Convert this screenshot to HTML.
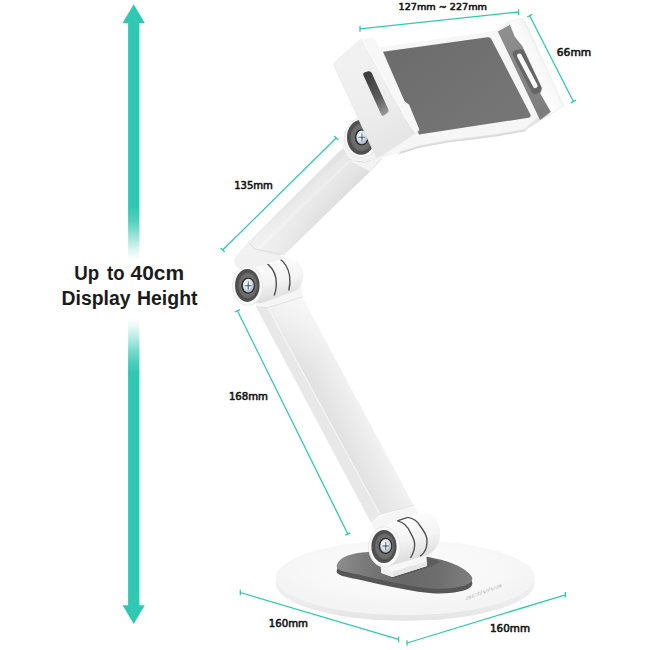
<!DOCTYPE html>
<html lang="en">
<head>
<meta charset="utf-8">
<title>Tablet Stand Dimensions</title>
<style>
html,body{margin:0;padding:0;background:#fff;}
body{width:650px;height:650px;overflow:hidden;}
svg{display:block;}
.big{font-family:"Liberation Sans",sans-serif;font-weight:700;font-size:20px;fill:#1b1b1b;}
.lbl{font-family:"DejaVu Sans","Liberation Sans",sans-serif;font-weight:400;font-size:9.9px;fill:#141414;stroke:#141414;stroke-width:0.55;stroke-linejoin:round;}
.dim{stroke:#30c8b2;stroke-width:1.3;fill:none;stroke-linecap:butt;}
</style>
</head>
<body>
<svg width="650" height="650" viewBox="0 0 650 650">
<defs>
  <linearGradient id="shaft" gradientUnits="userSpaceOnUse" x1="0" y1="0" x2="0" y2="650">
    <stop offset="0" stop-color="#30c8b2" stop-opacity="1"/>
    <stop offset="0.318" stop-color="#30c8b2" stop-opacity="1"/>
    <stop offset="0.342" stop-color="#30c8b2" stop-opacity="0.82"/>
    <stop offset="0.366" stop-color="#30c8b2" stop-opacity="0.45"/>
    <stop offset="0.385" stop-color="#30c8b2" stop-opacity="0.16"/>
    <stop offset="0.4" stop-color="#30c8b2" stop-opacity="0"/>
    <stop offset="0.489" stop-color="#30c8b2" stop-opacity="0"/>
    <stop offset="0.505" stop-color="#30c8b2" stop-opacity="0.14"/>
    <stop offset="0.52" stop-color="#30c8b2" stop-opacity="0.35"/>
    <stop offset="0.537" stop-color="#30c8b2" stop-opacity="0.62"/>
    <stop offset="0.556" stop-color="#30c8b2" stop-opacity="0.86"/>
    <stop offset="0.573" stop-color="#30c8b2" stop-opacity="1"/>
    <stop offset="1" stop-color="#30c8b2" stop-opacity="1"/>
  </linearGradient>
  <linearGradient id="padG" gradientUnits="userSpaceOnUse" x1="400" y1="40" x2="470" y2="135">
    <stop offset="0" stop-color="#6c6c6c"/>
    <stop offset="1" stop-color="#757575"/>
  </linearGradient>
  <radialGradient id="baseG" gradientUnits="userSpaceOnUse" cx="405" cy="570" r="135" gradientTransform="translate(0,404) scale(1,0.29)">
    <stop offset="0" stop-color="#fbfbfb"/>
    <stop offset="0.7" stop-color="#f8f8f8"/>
    <stop offset="1" stop-color="#f4f4f4"/>
  </radialGradient>
  <linearGradient id="bpadG" gradientUnits="userSpaceOnUse" x1="336" y1="565" x2="473" y2="580">
    <stop offset="0" stop-color="#8e8e8e"/>
    <stop offset="0.12" stop-color="#828282"/>
    <stop offset="0.3" stop-color="#727272"/>
    <stop offset="0.5" stop-color="#686868"/>
    <stop offset="0.75" stop-color="#6e6e6e"/>
    <stop offset="1" stop-color="#808080"/>
  </linearGradient>
  <linearGradient id="cylG3" gradientUnits="userSpaceOnUse" x1="405" y1="515" x2="415" y2="558">
    <stop offset="0" stop-color="#fdfdfd"/>
    <stop offset="0.55" stop-color="#f4f4f4"/>
    <stop offset="1" stop-color="#dedede"/>
  </linearGradient>
  <linearGradient id="ringG" x1="0" y1="0" x2="1" y2="1">
    <stop offset="0" stop-color="#686868"/>
    <stop offset="1" stop-color="#4c4c4c"/>
  </linearGradient>
  <radialGradient id="screwG" cx="0.4" cy="0.35" r="0.7">
    <stop offset="0" stop-color="#ffffff"/>
    <stop offset="0.6" stop-color="#d6dde4"/>
    <stop offset="1" stop-color="#9aa6b3"/>
  </radialGradient>
  <linearGradient id="arm2L" gradientUnits="userSpaceOnUse" x1="300" y1="420" x2="312" y2="414">
    <stop offset="0" stop-color="#eeeeee"/>
    <stop offset="0.5" stop-color="#e5e5e5"/>
    <stop offset="1" stop-color="#e8e8e8"/>
  </linearGradient>
  <linearGradient id="arm2F" gradientUnits="userSpaceOnUse" x1="322" y1="412" x2="357" y2="394">
    <stop offset="0" stop-color="#e0e0e0"/>
    <stop offset="0.45" stop-color="#e8e8e8"/>
    <stop offset="0.85" stop-color="#efefef"/>
    <stop offset="1" stop-color="#f3f3f3"/>
  </linearGradient>
  <linearGradient id="cylG2" gradientUnits="userSpaceOnUse" x1="272" y1="259" x2="280" y2="298">
    <stop offset="0" stop-color="#fdfdfd"/>
    <stop offset="0.55" stop-color="#f4f4f4"/>
    <stop offset="1" stop-color="#dedede"/>
  </linearGradient>
  <linearGradient id="arm1T" gradientUnits="userSpaceOnUse" x1="296" y1="197" x2="303" y2="204.5">
    <stop offset="0" stop-color="#e3e3e3"/>
    <stop offset="0.3" stop-color="#e7e7e7"/>
    <stop offset="1" stop-color="#ebebeb"/>
  </linearGradient>
  <linearGradient id="arm1F" gradientUnits="userSpaceOnUse" x1="303" y1="206" x2="319" y2="222.5">
    <stop offset="0" stop-color="#eeeeee"/>
    <stop offset="0.1" stop-color="#e7e7e7"/>
    <stop offset="0.6" stop-color="#e3e3e3"/>
    <stop offset="0.9" stop-color="#dedede"/>
    <stop offset="1" stop-color="#d8d8d8"/>
  </linearGradient>
  <linearGradient id="plateG" gradientUnits="userSpaceOnUse" x1="455" y1="120" x2="459" y2="142">
    <stop offset="0" stop-color="#fafafa"/>
    <stop offset="0.5" stop-color="#f2f2f2"/>
    <stop offset="1" stop-color="#dddddd"/>
  </linearGradient>
  <linearGradient id="rcG" gradientUnits="userSpaceOnUse" x1="505" y1="25" x2="545" y2="118">
    <stop offset="0" stop-color="#8f8f8f"/>
    <stop offset="1" stop-color="#7c7c7c"/>
  </linearGradient>
  <linearGradient id="rcTop" gradientUnits="userSpaceOnUse" x1="530" y1="66" x2="546" y2="58">
    <stop offset="0" stop-color="#fdfdfd"/>
    <stop offset="0.7" stop-color="#f6f6f6"/>
    <stop offset="1" stop-color="#e4e4e4"/>
  </linearGradient>
  <linearGradient id="lcSide" gradientUnits="userSpaceOnUse" x1="350" y1="60" x2="395" y2="140">
    <stop offset="0" stop-color="#f1f1f1"/>
    <stop offset="0.6" stop-color="#ededed"/>
    <stop offset="1" stop-color="#e6e6e6"/>
  </linearGradient>
  <linearGradient id="lslotG" gradientUnits="userSpaceOnUse" x1="366" y1="74" x2="386" y2="114">
    <stop offset="0" stop-color="#3d3d3d"/>
    <stop offset="0.6" stop-color="#5a5a5a"/>
    <stop offset="1" stop-color="#9a9a9a"/>
  </linearGradient>
  <radialGradient id="dishG" cx="0.5" cy="0.5" r="0.6">
    <stop offset="0" stop-color="#7c7c7c"/>
    <stop offset="0.7" stop-color="#6c6c6c"/>
    <stop offset="1" stop-color="#585858"/>
  </radialGradient>
  <linearGradient id="rimG" gradientUnits="userSpaceOnUse" x1="0" y1="583" x2="0" y2="621">
    <stop offset="0" stop-color="#f0f0f0"/>
    <stop offset="0.6" stop-color="#ebebeb"/>
    <stop offset="1" stop-color="#e4e4e4"/>
  </linearGradient>
  <linearGradient id="arm1Len" gradientUnits="userSpaceOnUse" x1="350" y1="170" x2="265" y2="255">
    <stop offset="0" stop-color="#ffffff" stop-opacity="0"/>
    <stop offset="0.5" stop-color="#ffffff" stop-opacity="0.08"/>
    <stop offset="1" stop-color="#ffffff" stop-opacity="0.38"/>
  </linearGradient>
  <linearGradient id="arm2Len" gradientUnits="userSpaceOnUse" x1="285" y1="302" x2="318" y2="364">
    <stop offset="0" stop-color="#ffffff" stop-opacity="0.55"/>
    <stop offset="1" stop-color="#ffffff" stop-opacity="0"/>
  </linearGradient>
</defs>
<rect width="650" height="650" fill="#ffffff"/>

<!-- ============ BIG HEIGHT ARROW ============ -->
<g id="height-arrow">
  <rect x="128.1" y="22" width="11.3" height="584" fill="url(#shaft)"/>
  <polygon points="133.7,4.2 144.8,22.9 122.6,22.9" fill="#30c8b2"/>
  <polygon points="133.7,624 144.8,605.3 122.6,605.3" fill="#30c8b2"/>
</g>
<text class="big" y="280"><tspan x="74.3" textLength="25" lengthAdjust="spacingAndGlyphs">Up</tspan> <tspan x="107" textLength="17.5" lengthAdjust="spacingAndGlyphs">to</tspan> <tspan x="130.6" textLength="53.5" lengthAdjust="spacingAndGlyphs">40cm</tspan></text>
<text class="big" y="305.4"><tspan x="61.6" textLength="69" lengthAdjust="spacingAndGlyphs">Display</tspan> <tspan x="137" textLength="60.5" lengthAdjust="spacingAndGlyphs">Height</tspan></text>

<!-- ============ BASE ============ -->
<g id="base">
  <ellipse cx="405.2" cy="583.2" rx="129.4" ry="37.6" fill="url(#rimG)"/>
  <ellipse cx="405.2" cy="577.6" rx="129.4" ry="37.4" fill="url(#baseG)"/>
  <!-- brand mark on base -->
  <text transform="translate(465,600.6) rotate(-20.5) skewX(-30)" font-family="'Liberation Sans',sans-serif" font-size="5.6" font-weight="400" fill="#c4c4c4" textLength="39" lengthAdjust="spacingAndGlyphs">activiva</text>
  <!-- dark rubber pad -->
  <path id="bpad" d="M336.6,566.6 C337,559.6 346,554 362,552.4 L372,551.8 L427,557 C446,559.5 466,567 472,577 C473.5,581 470,585 458,587 C452,588.5 442,589 432,588.5 L418,587 C400,584 380,580 362,575.5 C350,572.5 337,571.4 336.6,566.6 Z" fill="#565656" transform="translate(0,4.8)"/>
  <path d="M336.6,566.6 C337,559.6 346,554 362,552.4 L372,551.8 L427,557 C446,559.5 466,567 472,577 C473.5,581 470,585 458,587 C452,588.5 442,589 432,588.5 L418,587 C400,584 380,580 362,575.5 C350,572.5 337,571.4 336.6,566.6 Z" fill="url(#bpadG)"/>
</g>
<!-- ============ LOWER ARM ============ -->
<g id="arm2">
  <polygon points="256.2,307 267.7,307.7 379.7,514 370,521" fill="url(#arm2L)"/>
  <polygon points="267.7,307.7 302.3,297 413.3,504.6 379.7,514" fill="url(#arm2F)"/>
  <polygon points="267.7,307.7 302.3,297 413.3,504.6 379.7,514" fill="url(#arm2Len)"/>
  <path d="M267.7,307.7 L379.7,514" stroke="#f5f5f5" stroke-width="1.2" fill="none"/>
</g>
<!-- ============ BASE JOINT ============ -->
<g id="joint3">
  <!-- shadow under mount block -->
  <path d="M380,570 L393,578.5 L430,567 L440,562 L426,556 Z" fill="#3f3f3f" opacity="0.35"/>
  <!-- mount block -->
  <path d="M380.6,563 L426.3,552 L427,566 L392.4,577 L381.3,572.9 Z" fill="#f6f6f6"/>
  <path d="M392.4,577 L427,566 L427,561.5 L392.4,571.6 Z" fill="#e6e6e6"/>
  <path d="M380.8,567.5 L392.4,571.6 L392.4,577 L381.3,572.9 Z" fill="#efefef"/>
  <!-- knuckle from arm -->
  <path d="M369.5,520.5 L413.3,504.6 L419,515 L400,530 L376,534 Z" fill="#f5f5f5"/>
  <path d="M370.3,521.6 L379.8,514.4 L413.4,505.2" fill="none" stroke="#dcdcdc" stroke-width="0.9"/>
  <!-- cylinder body -->
  <path d="M384,527 C388,524 392,521.5 396.5,520.2 C404,517.5 410,515.5 416,514 C419,513 422,512.6 424.2,512.6 C431,513 435.5,517 436.7,520.2 C439,524.5 440.4,528.5 440.2,532.7 C440.2,537.5 439.2,541.5 437.4,545.2 C435.4,549.5 431.5,553 427,554.9 C420,557.5 410,559.5 400,563 L384,567.5 Z" fill="url(#cylG3)"/>
  <path d="M397.2,520.9 L407.8,517.4 M397.2,520.9 C403,522 408,527 410.4,532.7 C413.5,538 415,541 414.6,545.2 C414.4,550 413,554 410.4,557.8" fill="none" stroke="#505050" stroke-width="1.4"/>
  <path d="M407.8,517.4 C414,518.5 418,522 420,525.8 C424,531 426.6,535 427,539.6 C427.2,545 426.4,549 424.2,552 C423,554 421.6,555.3 420,556.2" fill="none" stroke="#505050" stroke-width="1.4"/>
  <!-- front face -->
  <ellipse cx="384.3" cy="546.9" rx="15.7" ry="20.1" fill="#f9f9f9" stroke="#e3e3e3" stroke-width="0.8"/>
  <ellipse cx="384.0" cy="546.5" rx="12.6" ry="16.6" fill="#4f4f4f"/>
  <ellipse cx="384.6" cy="546.5" rx="9.7" ry="13.0" fill="url(#dishG)"/>
  <ellipse cx="385.5" cy="545.9" rx="6.9" ry="8.2" fill="#2d2d2d"/>
  <ellipse cx="385.7" cy="545.9" rx="5.5" ry="6.8" fill="url(#screwG)"/>
  <path d="M385.7,542.3 V549.5 M382.7,545.9 H388.7" stroke="#7088a0" stroke-width="1.3" fill="none" stroke-linecap="round"/>
  <circle cx="385.7" cy="545.9" r="1" fill="#4a5d70"/>
</g>
<!-- ============ MIDDLE JOINT ============ -->
<g id="joint2">
  <!-- knuckle to lower arm -->
  <path d="M258,296 L300,282 L303.5,296.5 L267.7,308 L256,307.3 Z" fill="#f5f5f5"/>
  <path d="M256.2,307 L267.7,307.7 L302.3,297" fill="none" stroke="#dedede" stroke-width="0.9"/>
  <!-- cylinder body -->
  <path d="M246,268 C252,264.5 259,262.3 265.8,260.8 C272,259 277,257.9 282.7,257.7 C289,257.6 294,259.3 298,262.3 C301.5,265.5 303.5,270 303.5,274.6 C303.5,280 301.8,285 298.8,288.5 C296,291 292.5,292.5 288.8,293 C280,296.5 270,300 262,303 L246,303.5 Z" fill="url(#cylG2)"/>
  <path d="M264.2,261.3 L278.8,258 M264.2,261.3 C270,265 274.5,271 275.8,277.7 C276.8,284 276.4,290 274.2,295.5" fill="none" stroke="#505050" stroke-width="1.4"/>
  <path d="M278.8,258 C284.5,262 288.6,269 289.6,276 C290.2,281 290,286 288.8,290.5" fill="none" stroke="#505050" stroke-width="1.4"/>
  <!-- front face -->
  <ellipse cx="247.6" cy="285.8" rx="15" ry="19.6" fill="#f9f9f9" stroke="#e3e3e3" stroke-width="0.8"/>
  <ellipse cx="247.3" cy="285.4" rx="12.3" ry="16.5" fill="#4f4f4f"/>
  <ellipse cx="247.9" cy="285.4" rx="9.4" ry="12.9" fill="url(#dishG)"/>
  <ellipse cx="248.1" cy="285.6" rx="6.9" ry="8.2" fill="#2d2d2d"/>
  <ellipse cx="248.3" cy="285.6" rx="5.5" ry="6.8" fill="url(#screwG)"/>
  <path d="M248.3,282.0 V289.2 M245.3,285.6 H251.3" stroke="#7088a0" stroke-width="1.3" fill="none" stroke-linecap="round"/>
  <circle cx="248.3" cy="285.6" r="1" fill="#4a5d70"/>
</g>
<!-- ============ UPPER ARM ============ -->
<g id="arm1">
  <!-- end cap near middle joint -->
  <path d="M248.4,242 L234.6,257.8 C233.5,262 235,266 238.5,268.5 L262,266 L284,258.4 L280.5,254.5 L254.8,249 Z" fill="#f1f1f1"/>
  <!-- collar around top joint -->
  <path d="M342.9,148.8 L344,132 L362,118 L384,140 L381.7,158.5 L370,171.5 L350,160.8 Z" fill="#f3f3f3"/>
  <polygon points="342.3,148.5 350,160.8 254.8,249 248.4,242" fill="url(#arm1T)"/>
  <polygon points="350,160.8 370,171.5 283.6,255.2 280.5,254.5 254.8,249" fill="url(#arm1F)"/>
  <polygon points="342.3,148.5 350,160.8 370,171.5 283.6,255.2 280.5,254.5 254.8,249 248.4,242" fill="url(#arm1Len)"/>
  <path d="M350,160.8 L254.8,249" fill="none" stroke="#f0f0f0" stroke-width="1.2"/>
  <path d="M370,171.5 L381.7,158.5" fill="none" stroke="#e0e0e0" stroke-width="1"/>
  <path d="M342.9,148.8 L348.8,159.4 L365.5,162.6 L377.4,157" fill="none" stroke="#dddddd" stroke-width="0.9"/>
  <path d="M248.4,242 L254.8,249 L280.5,254.5" fill="none" stroke="#d8d8d8" stroke-width="0.9"/>
</g>
<!-- ============ TABLET HOLDER ============ -->
<g id="holder">
  <!-- bracket behind top joint -->
  <path d="M346,150 L352,161 L372,160 L392,154.5 L401,146 L385,140 L360,120 Z" fill="#f2f2f2"/>
  <!-- back plate -->
  <path d="M376,48 L498,30.5 L541,119.5 L524.5,130 L498.5,134.6 L470,138.4 L449,140.8 L420.8,146 L392,155 L380,150 Z" fill="#f6f6f6"/>
  <path d="M525.5,130 L498.5,134.8 L470,138.6 L449,141 L420.8,146.2 L400,152.6" fill="none" stroke="#e1e1e1" stroke-width="2.2"/>
  <path d="M526,130.6 L498.5,135.6 L470,139.4 L449,141.8 L420.8,147 L398,153.8" fill="none" stroke="#d2d2d2" stroke-width="0.7"/>
  <!-- rubber pad -->
  <path d="M383,51.8 L487.5,37.2 Q490.2,36.8 491.4,39.2 L530.4,114.4 Q531.6,117.2 528.6,117.7 L419,134.6 Z" fill="url(#padG)"/>
  <!-- right clamp : underside -->
  <path d="M537,118 L552.8,112.6 L563.8,106.2 L554.6,111.8 L540.8,120.4 L525.4,130.2 L523.8,129.2 Z" fill="#e4e4e4"/>
  <!-- right clamp : inner grey face -->
  <path d="M497.5,30.5 L507.6,21.6 L510.4,24.6 Z" fill="#f3f3f3"/>
  <path d="M497.8,31.4 L510.2,24.6 L515,36.6 L522.6,46 L542.3,88 L540.6,93.5 L551,111.7 L540,120 Z" fill="url(#rcG)"/>
  <!-- right clamp slot recess + opening -->
  <path d="M513,55.4 Q511.6,51.6 515,50.6 L520.4,49.2 Q523,48.8 524.2,51 L541.6,87.4 Q542.8,90.4 540.4,91.8 L536.4,94 Q533.4,95.2 531.8,92.4 Z" fill="#666666"/>
  <path d="M519.4,55.9 L535.3,85.8" stroke="#fafafa" stroke-width="4.6" stroke-linecap="round" fill="none"/>
  <!-- right clamp : white top face -->
  <path d="M507.6,21.6 L520.5,18.5 Q523.6,18.2 525,21.2 L563.8,106 L552.8,112.6 L551,111.7 L540.6,93.5 L542.3,88 L522.6,46 L515,36.6 L510.2,24.6 Z" fill="url(#rcTop)" stroke="#e9e9e9" stroke-width="0.6"/>
</g>
<!-- ============ TOP JOINT ============ -->
<g id="joint1">
  <ellipse cx="361.3" cy="137.8" rx="16.4" ry="19.8" fill="#f9f9f9" stroke="#e3e3e3" stroke-width="0.8"/>
  <ellipse cx="361.0" cy="137.4" rx="14" ry="17.4" fill="#4f4f4f"/>
  <ellipse cx="361.6" cy="137.4" rx="11.1" ry="13.8" fill="url(#dishG)"/>
  <ellipse cx="361.7" cy="137.4" rx="6.9" ry="8.2" fill="#2d2d2d"/>
  <ellipse cx="361.9" cy="137.4" rx="5.5" ry="6.8" fill="url(#screwG)"/>
  <path d="M361.9,133.8 V141.0 M358.9,137.4 H364.9" stroke="#7088a0" stroke-width="1.3" fill="none" stroke-linecap="round"/>
  <circle cx="361.9" cy="137.4" r="1" fill="#4a5d70"/>
</g>
<g id="holder-left-clamp">
  <!-- left clamp : side face -->
  <path d="M333.8,65.2 Q333,63.6 334.4,62.4 L360.6,39.4 Q361.4,38.8 362,39 L404,107 L409,110.3 L419,130.6 L403,141.7 L383.2,154 L376.5,158 Z" fill="url(#lcSide)" stroke="#e6e6e6" stroke-width="0.7"/>
  <!-- left clamp : top face -->
  <path d="M362,39 L372,37.6 Q374.6,37.4 375.6,39.8 L382,54 L404,101 L409,104.6 L419.4,129.4 L415.4,132.6 L405,117 Z" fill="#f7f7f7"/>
  <path d="M362,39 L405,117 L415.4,132.6" fill="none" stroke="#fdfdfd" stroke-width="1"/>
  <!-- left clamp slot -->
  <path d="M363.4,75.2 Q362.6,72.8 365,72.2 L368.4,71.2 Q370.6,70.8 371.6,72.8 L388.4,109.6 Q389.2,111.6 387.6,112.8 L384,115.6 Q382.2,116.6 381.2,114.6 Z" fill="url(#lslotG)"/>
</g>


<!-- ============ DIMENSION LINES ============ -->
<g id="dims" class="dim">
  <path d="M360,28.8 L518.6,12 M360,26 V31.7 M518.6,9.2 V14.9"/>
  <path d="M529.7,15.7 L573.4,101.5 M527.2,17 L532.2,14.4 M570.9,102.8 L575.9,100.2"/>
  <path d="M336.2,138 L222.7,250 M334.2,136 L338.2,140 M220.7,248 L224.7,252"/>
  <path d="M237.4,310.8 L347.8,534 M234.9,312 L239.9,309.6 M345.3,535.2 L350.3,532.8"/>
  <path d="M240.3,592.5 L398.6,639.4 M240.3,589.7 V595.3 M398.6,636.6 V642.2"/>
  <path d="M407,643 L565.4,594.8 M407,640.2 V645.8 M565.4,592 V597.6"/>
</g>
<g id="labels">
  <text class="lbl" style="font-size:9.1px" x="398.5" y="9.6" textLength="88.5" lengthAdjust="spacingAndGlyphs">127mm ~ 227mm</text>
  <text class="lbl" x="556.8" y="56.3" textLength="34.4" lengthAdjust="spacingAndGlyphs">66mm</text>
  <text class="lbl" x="234.2" y="188.5" textLength="38.7" lengthAdjust="spacingAndGlyphs">135mm</text>
  <text class="lbl" x="228.9" y="400" textLength="39.1" lengthAdjust="spacingAndGlyphs">168mm</text>
  <text class="lbl" x="268.8" y="626.8" textLength="39.2" lengthAdjust="spacingAndGlyphs">160mm</text>
  <text class="lbl" x="490" y="631.7" textLength="40" lengthAdjust="spacingAndGlyphs">160mm</text>
</g>
</svg>
</body>
</html>
